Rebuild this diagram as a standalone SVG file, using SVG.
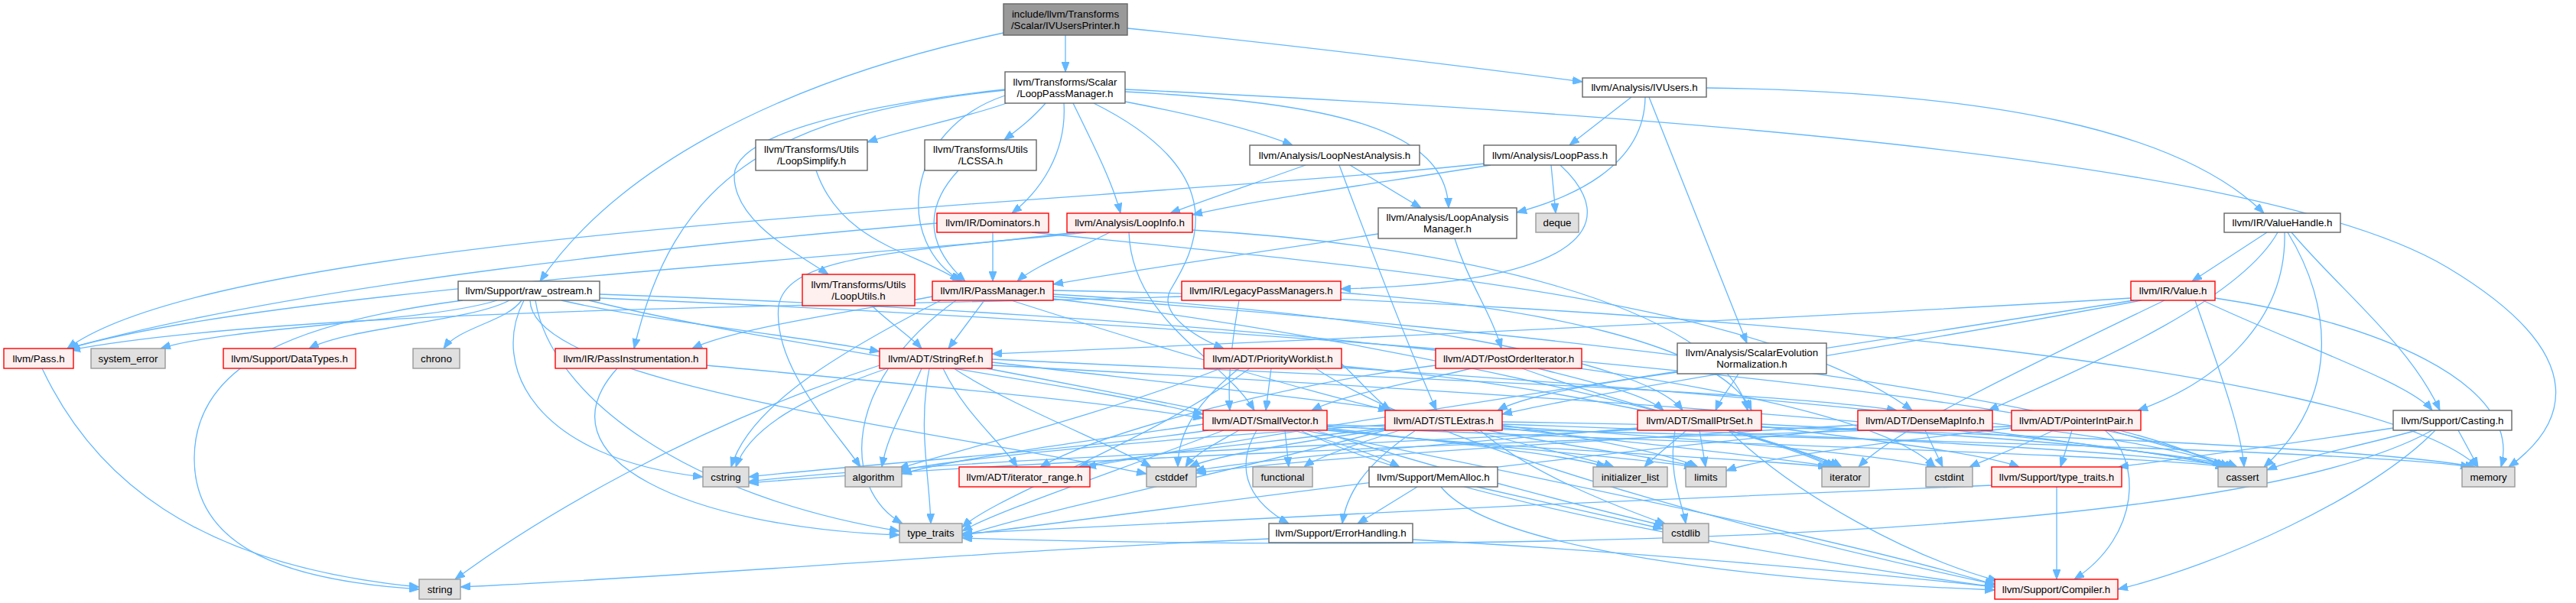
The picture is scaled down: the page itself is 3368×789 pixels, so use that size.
<svg xmlns="http://www.w3.org/2000/svg" width="3368" height="789" viewBox="0 0 3368 789">
<style>
.n rect{stroke-width:1.4}
.r rect{fill:#FFF0F0;stroke:#FF0000}
.w rect{fill:#FFFFFF;stroke:#666666}
.g rect{fill:#E0E0E0;stroke:#999999}
.t rect{fill:#999999;stroke:#666666}
text{font-family:"Liberation Sans",Arial,Helvetica,sans-serif;font-size:13.33px;text-anchor:middle;fill:#000000}
#edges path{fill:none;stroke:#63B8FF;stroke-width:1.3;marker-end:url(#a)}
</style>
<defs>
<marker id="a" markerWidth="13" markerHeight="10" refX="13" refY="5" orient="auto" markerUnits="userSpaceOnUse">
<path d="M0,0 L13,5 L0,10 z" fill="#63B8FF" stroke="#63B8FF" stroke-width="1"/>
</marker>
</defs>
<rect x="0" y="0" width="3368" height="789" fill="#FFFFFF"/>
<g id="edges">
<path d="M1393,46 L1393,94"/>
<path d="M1474,37 C1700,60 1900,85 2069,107"/>
<path d="M1312,43 C1000,110 800,230 706,368"/>
<path d="M1316,135 C1260,155 1180,170 1134,186"/>
<path d="M1367,135 C1350,155 1330,170 1313,183"/>
<path d="M1391,135 C1395,200 1360,250 1323,279"/>
<path d="M1403,135 C1430,190 1455,240 1465,279"/>
<path d="M1314,125 C1180,170 1170,320 1258,368"/>
<path d="M1430,135 C1620,230 1560,330 1530,380 C1515,410 1560,440 1600,456"/>
<path d="M1471,133 C1560,150 1640,170 1690,190"/>
<path d="M1471,120 C1750,135 1890,170 1894,272"/>
<path d="M1471,117 C2400,160 3000,230 3200,350 C3400,470 3350,560 3280,611"/>
<path d="M1314,117 C1100,140 960,180 960,230 C960,290 1040,330 1083,359"/>
<path d="M1314,118 C1000,150 880,240 829,456"/>
<path d="M2133,127 L2052,190"/>
<path d="M2151,127 C2150,220 2050,260 1983,278"/>
<path d="M2156,127 L2284,449"/>
<path d="M2231,115 C2600,120 2850,170 2960,279"/>
<path d="M1067,223 C1100,320 1200,330 1255,368"/>
<path d="M1253,223 C1200,280 1220,330 1262,368"/>
<path d="M1765,216 L1858,272"/>
<path d="M1751,216 C1790,320 1840,450 1878,537"/>
<path d="M1707,216 C1640,240 1580,260 1530,279"/>
<path d="M2028,216 L2034,279"/>
<path d="M2040,216 C2120,290 2080,370 1753,378"/>
<path d="M1949,216 C1800,240 1650,260 1559,281"/>
<path d="M1942,214 C1400,270 300,300 88,456"/>
<path d="M1802,306 C1650,330 1500,350 1377,372"/>
<path d="M1902,312 C1920,370 1950,410 1963,456"/>
<path d="M2964,304 L2866,368"/>
<path d="M2978,304 C2930,390 2750,470 2600,537"/>
<path d="M2987,304 C2990,420 2900,500 2795,537"/>
<path d="M2996,304 C3060,380 3150,450 3190,537"/>
<path d="M2991,304 C3050,400 3060,520 2960,611"/>
<path d="M1225,292 C900,320 400,370 88,456"/>
<path d="M1298,304 L1298,368"/>
<path d="M1349,304 C1800,350 2300,390 2500,537"/>
<path d="M1420,304 C1100,340 350,380 90,456"/>
<path d="M1451,304 C1400,330 1350,350 1330,368"/>
<path d="M1476,304 C1480,420 1600,470 1640,537"/>
<path d="M1559,301 C1900,320 2250,400 2285,537"/>
<path d="M1405,304 C1200,330 1030,330 1018,400 C1010,480 1090,560 1125,611"/>
<path d="M1545,388 C1200,400 400,400 92,458"/>
<path d="M1620,393 C1610,450 1605,500 1608,537"/>
<path d="M1753,383 C2000,400 2250,450 2290,537"/>
<path d="M1219,388 C1100,410 960,430 905,456"/>
<path d="M1287,393 L1240,456"/>
<path d="M1322,393 C1500,450 1700,510 1815,537"/>
<path d="M1377,385 C1800,410 2150,470 2200,537"/>
<path d="M1377,388 C2000,430 2750,520 2905,611"/>
<path d="M1230,393 C1100,460 980,530 956,611"/>
<path d="M1377,391 C1800,440 2300,560 2395,611"/>
<path d="M1377,380 C2200,395 3100,480 3240,611"/>
<path d="M1250,393 C1100,500 1100,640 1180,685"/>
<path d="M1140,400 C1160,420 1190,440 1205,456"/>
<path d="M734,393 C850,420 1050,440 1150,460"/>
<path d="M666,393 C614,421 456,428 404,456"/>
<path d="M650,393 C562,421 298,428 210,456"/>
<path d="M682,393 C662,421 600,428 580,456"/>
<path d="M685,393 C640,480 700,600 919,624"/>
<path d="M605,393 C400,420 254,470 254,600 C254,720 380,760 548,771"/>
<path d="M700,393 C720,520 900,650 1176,695"/>
<path d="M693,393 C695,500 1200,560 1499,620"/>
<path d="M784,390 C1500,420 2700,500 2910,611"/>
<path d="M784,385 C1500,410 2400,480 2530,611"/>
<path d="M770,393 C1000,450 1400,500 1573,542"/>
<path d="M55,482 C120,620 250,740 548,768"/>
<path d="M924,478 C1150,500 1400,520 1573,547"/>
<path d="M807,482 C700,600 900,690 1176,700"/>
<path d="M1205,482 C1180,540 1160,570 1153,611"/>
<path d="M1160,482 C1050,520 980,560 962,611"/>
<path d="M1233,482 C1260,540 1310,580 1330,611"/>
<path d="M1247,482 C1320,530 1450,580 1505,611"/>
<path d="M1297,470 C1700,490 2300,510 2480,537"/>
<path d="M1297,474 C1600,510 2100,560 2220,611"/>
<path d="M1297,478 C1900,510 2700,560 2910,611"/>
<path d="M1290,482 C1700,560 2400,700 2608,765"/>
<path d="M1150,478 C900,560 700,680 595,758"/>
<path d="M1215,482 C1200,560 1215,620 1217,685"/>
<path d="M1662,482 L1655,537"/>
<path d="M1754,476 C1780,500 1795,520 1818,537"/>
<path d="M1596,482 C1450,540 1250,590 1175,613"/>
<path d="M1620,482 C1560,530 1540,570 1540,611"/>
<path d="M1634,482 C1500,580 1300,650 1258,690"/>
<path d="M1754,479 C2000,500 2300,560 2400,611"/>
<path d="M1754,481 C2200,510 2800,560 2915,611"/>
<path d="M1720,482 C1900,600 2400,720 2610,765"/>
<path d="M1924,482 C1850,500 1760,515 1715,537"/>
<path d="M2011,482 C2080,500 2150,515 2175,537"/>
<path d="M1877,478 C1700,500 1450,560 1360,611"/>
<path d="M1990,482 C2150,540 2350,580 2405,611"/>
<path d="M2273,489 C2260,510 2250,520 2243,537"/>
<path d="M2193,487 C2100,500 2000,515 1958,537"/>
<path d="M1573,555 C1400,580 1250,600 1179,620"/>
<path d="M1580,563 C1400,590 1100,610 979,624"/>
<path d="M1620,563 C1590,580 1560,595 1550,611"/>
<path d="M1680,563 L1685,611"/>
<path d="M1691,563 C1750,580 1800,595 1830,611"/>
<path d="M1643,563 C1610,620 1640,660 1685,685"/>
<path d="M1735,560 C1900,580 2050,595 2100,611"/>
<path d="M1735,562 C1950,585 2150,600 2215,611"/>
<path d="M1735,563 C2000,590 2300,600 2390,611"/>
<path d="M1735,558 C2200,580 2800,595 2910,611"/>
<path d="M1735,556 C2300,570 3100,590 3230,611"/>
<path d="M1720,563 C1900,620 2100,670 2176,688"/>
<path d="M1600,563 C1450,620 1300,670 1258,695"/>
<path d="M1700,563 C1900,660 2400,740 2608,768"/>
<path d="M1811,560 C1650,580 1480,595 1410,611"/>
<path d="M1851,563 C1780,610 1760,650 1755,685"/>
<path d="M1811,556 C1500,575 1250,600 1175,616"/>
<path d="M1811,562 C1650,585 1580,600 1555,611"/>
<path d="M1830,563 C1760,585 1720,600 1705,611"/>
<path d="M1925,563 C2000,585 2080,600 2110,611"/>
<path d="M1945,563 C2050,585 2180,600 2218,611"/>
<path d="M1964,560 C2150,580 2330,600 2398,611"/>
<path d="M1964,558 C2250,575 2450,595 2532,611"/>
<path d="M1964,555 C2400,570 2800,590 2918,611"/>
<path d="M1964,552 C2500,560 3100,585 3236,611"/>
<path d="M1935,563 C2000,620 2120,665 2178,686"/>
<path d="M1811,563 C1600,620 1350,670 1258,702"/>
<path d="M2205,563 C2180,585 2160,600 2150,611"/>
<path d="M2222,563 L2230,611"/>
<path d="M2270,563 C2330,585 2390,600 2408,611"/>
<path d="M2303,558 C2450,575 2600,595 2640,611"/>
<path d="M2303,555 C2600,570 2850,590 2922,611"/>
<path d="M2141,560 C1900,580 1650,600 1562,616"/>
<path d="M2190,563 C2180,620 2200,660 2204,685"/>
<path d="M2141,562 C1700,585 1200,605 979,630"/>
<path d="M2260,563 C2350,650 2500,730 2612,760"/>
<path d="M2517,563 L2540,611"/>
<path d="M2590,563 C2750,585 2880,600 2912,611"/>
<path d="M2429,556 C2100,575 1700,600 1564,619"/>
<path d="M2429,560 C2000,600 1500,670 1258,700"/>
<path d="M2685,563 C2640,585 2600,600 2575,611"/>
<path d="M2709,563 L2694,611"/>
<path d="M2760,563 C2830,585 2900,600 2925,611"/>
<path d="M2630,560 C2450,580 2300,600 2257,616"/>
<path d="M2630,558 C2000,575 1300,605 979,632"/>
<path d="M2752,563 C2800,600 2800,700 2712,758"/>
<path d="M2689,637 L2689,758"/>
<path d="M2604,635 C2200,650 1600,680 1258,698"/>
<path d="M3160,563 C3080,585 3000,600 2964,615"/>
<path d="M3214,563 L3240,611"/>
<path d="M3129,560 C3000,580 2850,600 2770,611"/>
<path d="M3184,563 C3100,650 2900,740 2769,771"/>
<path d="M3180,563 C2900,720 1800,720 1258,704"/>
<path d="M2800,393 C2500,450 2100,510 1964,542"/>
<path d="M2786,390 C2300,420 1600,450 1297,463"/>
<path d="M2790,393 C2300,470 1700,560 1420,611"/>
<path d="M2880,393 C3000,450 3150,500 3180,537"/>
<path d="M2870,393 C2900,480 2930,560 2934,611"/>
<path d="M2830,393 C2650,480 2480,560 2430,611"/>
<path d="M2896,390 C3100,420 3300,500 3270,611"/>
<path d="M1853,637 L1775,685"/>
<path d="M1931,637 C2030,660 2120,680 2174,692"/>
<path d="M1884,637 C1950,720 2300,760 2608,772"/>
<path d="M1847,706 C2100,720 2400,745 2608,768"/>
<path d="M1659,705 C1300,720 900,755 602,768"/>
</g>
<g id="n_top" class="n t"><rect x="1312" y="5" width="162" height="41"/><text x="1393" y="23">include/llvm/Transforms</text><text x="1393" y="38">/Scalar/IVUsersPrinter.h</text></g>
<g id="n_lpm" class="n w"><rect x="1314" y="94" width="157" height="41"/><text x="1392.5" y="111.5">llvm/Transforms/Scalar</text><text x="1392.5" y="126.5">/LoopPassManager.h</text></g>
<g id="n_ivu" class="n w"><rect x="2069" y="102" width="162" height="25"/><text x="2150" y="119">llvm/Analysis/IVUsers.h</text></g>
<g id="n_lsimp" class="n w"><rect x="988" y="183" width="146" height="40"/><text x="1061" y="200">llvm/Transforms/Utils</text><text x="1061" y="215">/LoopSimplify.h</text></g>
<g id="n_lcssa" class="n w"><rect x="1209" y="183" width="146" height="40"/><text x="1282" y="200">llvm/Transforms/Utils</text><text x="1282" y="215">/LCSSA.h</text></g>
<g id="n_lna" class="n w"><rect x="1634" y="190" width="222" height="26"/><text x="1745" y="207.5">llvm/Analysis/LoopNestAnalysis.h</text></g>
<g id="n_lp" class="n w"><rect x="1940" y="190" width="173" height="26"/><text x="2026.5" y="207.5">llvm/Analysis/LoopPass.h</text></g>
<g id="n_dom" class="n r"><rect x="1225" y="279" width="146" height="25"/><text x="1298" y="296">llvm/IR/Dominators.h</text></g>
<g id="n_li" class="n r"><rect x="1395" y="279" width="164" height="25"/><text x="1477" y="296">llvm/Analysis/LoopInfo.h</text></g>
<g id="n_lam" class="n w"><rect x="1802" y="272" width="181" height="40"/><text x="1892.5" y="289">llvm/Analysis/LoopAnalysis</text><text x="1892.5" y="304">Manager.h</text></g>
<g id="n_deque" class="n g"><rect x="2008" y="279" width="56" height="25"/><text x="2036" y="296">deque</text></g>
<g id="n_vh" class="n w"><rect x="2908" y="279" width="152" height="25"/><text x="2984" y="296">llvm/IR/ValueHandle.h</text></g>
<g id="n_raw" class="n w"><rect x="599" y="368" width="185" height="25"/><text x="691.5" y="385">llvm/Support/raw_ostream.h</text></g>
<g id="n_lu" class="n r"><rect x="1049" y="359" width="147" height="41"/><text x="1122.5" y="376.5">llvm/Transforms/Utils</text><text x="1122.5" y="391.5">/LoopUtils.h</text></g>
<g id="n_pm" class="n r"><rect x="1219" y="368" width="158" height="25"/><text x="1298" y="385">llvm/IR/PassManager.h</text></g>
<g id="n_lpms" class="n r"><rect x="1545" y="368" width="208" height="25"/><text x="1649" y="385">llvm/IR/LegacyPassManagers.h</text></g>
<g id="n_val" class="n r"><rect x="2786" y="368" width="110" height="25"/><text x="2841" y="385">llvm/IR/Value.h</text></g>
<g id="n_pass" class="n r"><rect x="5" y="456" width="91" height="26"/><text x="50.5" y="473.5">llvm/Pass.h</text></g>
<g id="n_syserr" class="n g"><rect x="119" y="456" width="97" height="26"/><text x="167.5" y="473.5">system_error</text></g>
<g id="n_dt" class="n r"><rect x="292" y="456" width="173" height="26"/><text x="378.5" y="473.5">llvm/Support/DataTypes.h</text></g>
<g id="n_chrono" class="n g"><rect x="540" y="456" width="61" height="26"/><text x="570.5" y="473.5">chrono</text></g>
<g id="n_pi" class="n r"><rect x="726" y="456" width="198" height="26"/><text x="825" y="473.5">llvm/IR/PassInstrumentation.h</text></g>
<g id="n_sr" class="n r"><rect x="1150" y="456" width="147" height="26"/><text x="1223.5" y="473.5">llvm/ADT/StringRef.h</text></g>
<g id="n_pw" class="n r"><rect x="1574" y="456" width="180" height="26"/><text x="1664" y="473.5">llvm/ADT/PriorityWorklist.h</text></g>
<g id="n_poi" class="n r"><rect x="1877" y="456" width="191" height="26"/><text x="1972.5" y="473.5">llvm/ADT/PostOrderIterator.h</text></g>
<g id="n_sen" class="n w"><rect x="2193" y="449" width="195" height="40"/><text x="2290.5" y="466">llvm/Analysis/ScalarEvolution</text><text x="2290.5" y="481">Normalization.h</text></g>
<g id="n_sv" class="n r"><rect x="1573" y="537" width="162" height="26"/><text x="1654" y="554.5">llvm/ADT/SmallVector.h</text></g>
<g id="n_stl" class="n r"><rect x="1811" y="537" width="153" height="26"/><text x="1887.5" y="554.5">llvm/ADT/STLExtras.h</text></g>
<g id="n_sps" class="n r"><rect x="2141" y="537" width="162" height="26"/><text x="2222" y="554.5">llvm/ADT/SmallPtrSet.h</text></g>
<g id="n_dmi" class="n r"><rect x="2429" y="537" width="176" height="26"/><text x="2517" y="554.5">llvm/ADT/DenseMapInfo.h</text></g>
<g id="n_pip" class="n r"><rect x="2630" y="537" width="169" height="26"/><text x="2714.5" y="554.5">llvm/ADT/PointerIntPair.h</text></g>
<g id="n_cast" class="n w"><rect x="3129" y="537" width="155" height="26"/><text x="3206.5" y="554.5">llvm/Support/Casting.h</text></g>
<g id="n_cstring" class="n g"><rect x="919" y="611" width="60" height="26"/><text x="949" y="628.5">cstring</text></g>
<g id="n_alg" class="n g"><rect x="1105" y="611" width="74" height="26"/><text x="1142" y="628.5">algorithm</text></g>
<g id="n_ir" class="n r"><rect x="1254" y="611" width="171" height="26"/><text x="1339.5" y="628.5">llvm/ADT/iterator_range.h</text></g>
<g id="n_cstddef" class="n g"><rect x="1499" y="611" width="65" height="26"/><text x="1531.5" y="628.5">cstddef</text></g>
<g id="n_func" class="n g"><rect x="1638" y="611" width="78" height="26"/><text x="1677" y="628.5">functional</text></g>
<g id="n_mem" class="n w"><rect x="1790" y="611" width="168" height="26"/><text x="1874" y="628.5">llvm/Support/MemAlloc.h</text></g>
<g id="n_il" class="n g"><rect x="2083" y="611" width="97" height="26"/><text x="2131.5" y="628.5">initializer_list</text></g>
<g id="n_lim" class="n g"><rect x="2204" y="611" width="53" height="26"/><text x="2230.5" y="628.5">limits</text></g>
<g id="n_iter" class="n g"><rect x="2382" y="611" width="62" height="26"/><text x="2413" y="628.5">iterator</text></g>
<g id="n_cstdint" class="n g"><rect x="2518" y="611" width="61" height="26"/><text x="2548.5" y="628.5">cstdint</text></g>
<g id="n_tt" class="n r"><rect x="2604" y="611" width="170" height="26"/><text x="2689" y="628.5">llvm/Support/type_traits.h</text></g>
<g id="n_cassert" class="n g"><rect x="2900" y="611" width="64" height="26"/><text x="2932" y="628.5">cassert</text></g>
<g id="n_memory" class="n g"><rect x="3219" y="611" width="69" height="26"/><text x="3253.5" y="628.5">memory</text></g>
<g id="n_ttraits" class="n g"><rect x="1176" y="685" width="82" height="25"/><text x="1217" y="702">type_traits</text></g>
<g id="n_eh" class="n w"><rect x="1659" y="685" width="188" height="25"/><text x="1753" y="702">llvm/Support/ErrorHandling.h</text></g>
<g id="n_cstdlib" class="n g"><rect x="2174" y="685" width="60" height="25"/><text x="2204" y="702">cstdlib</text></g>
<g id="n_string" class="n g"><rect x="548" y="758" width="54" height="26"/><text x="575" y="775.5">string</text></g>
<g id="n_comp" class="n r"><rect x="2608" y="758" width="161" height="26"/><text x="2688.5" y="775.5">llvm/Support/Compiler.h</text></g>
</svg>
